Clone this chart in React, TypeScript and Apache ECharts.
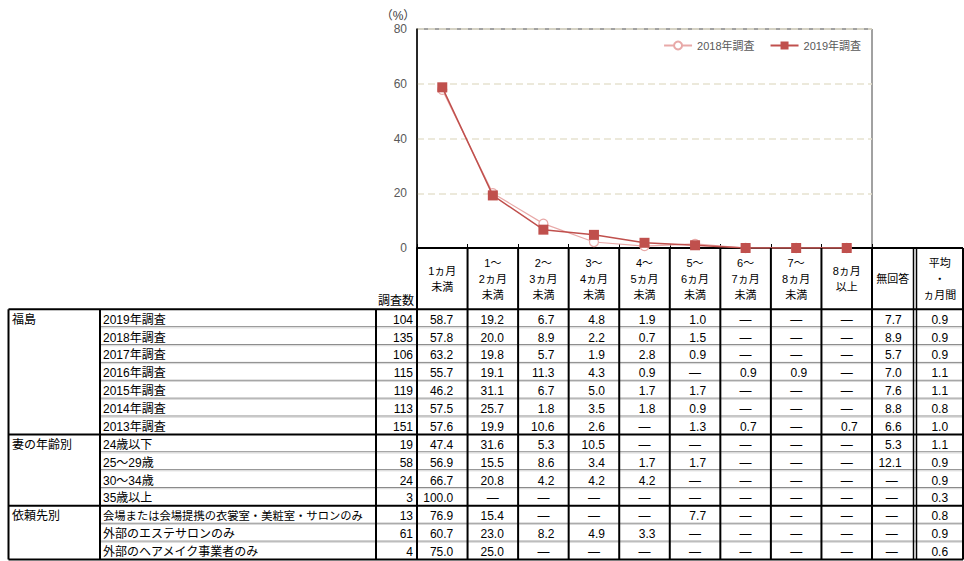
import React, { useEffect, useRef } from 'react';
import * as echarts from 'echarts';

// ---------- data ----------
const categories = [
  '1ヵ月\n未満', '1～\n2ヵ月\n未満', '2～\n3ヵ月\n未満', '3～\n4ヵ月\n未満', '4～\n5ヵ月\n未満',
  '5～\n6ヵ月\n未満', '6～\n7ヵ月\n未満', '7～\n8ヵ月\n未満', '8ヵ月\n以上',
];
const extraHeaders = ['無回答', '平均\n・\nヵ月間'];
const countHeader = '調査数';
const unitLabel = '（%）';
const yTicks = { min: 0, max: 80, interval: 20 };

const groupNames = ['福島', '妻の年齢別', '依頼先別'];
const groupSizes = [7, 4, 3];
const rowLabels = [
  '2019年調査', '2018年調査', '2017年調査', '2016年調査', '2015年調査', '2014年調査', '2013年調査',
  '24歳以下', '25～29歳', '30～34歳', '35歳以上',
  '会場または会場提携の衣裳室・美粧室・サロンのみ', '外部のエステサロンのみ', '外部のヘアメイク事業者のみ',
];
const sampleCounts = [104, 135, 106, 115, 119, 113, 151, 19, 58, 24, 3, 13, 61, 4];
const _ = null;
const rowValues: (number | null)[][] = [
  [58.7, 19.2, 6.7, 4.8, 1.9, 1.0, _, _, _],
  [57.8, 20.0, 8.9, 2.2, 0.7, 1.5, _, _, _],
  [63.2, 19.8, 5.7, 1.9, 2.8, 0.9, _, _, _],
  [55.7, 19.1, 11.3, 4.3, 0.9, _, 0.9, 0.9, _],
  [46.2, 31.1, 6.7, 5.0, 1.7, 1.7, _, _, _],
  [57.5, 25.7, 1.8, 3.5, 1.8, 0.9, _, _, _],
  [57.6, 19.9, 10.6, 2.6, _, 1.3, 0.7, _, 0.7],
  [47.4, 31.6, 5.3, 10.5, _, _, _, _, _],
  [56.9, 15.5, 8.6, 3.4, 1.7, 1.7, _, _, _],
  [66.7, 20.8, 4.2, 4.2, 4.2, _, _, _, _],
  [100.0, _, _, _, _, _, _, _, _],
  [76.9, 15.4, _, _, _, 7.7, _, _, _],
  [60.7, 23.0, 8.2, 4.9, 3.3, _, _, _, _],
  [75.0, 25.0, _, _, _, _, _, _, _],
];
const noAnswer: (number | null)[] = [7.7, 8.9, 5.7, 7.0, 7.6, 8.8, 6.6, 5.3, 12.1, _, _, _, _, _];
const avgMonths: number[] = [0.9, 0.9, 0.9, 1.1, 1.1, 0.8, 1.0, 1.1, 0.9, 0.9, 0.3, 0.8, 0.9, 0.6];

const seriesNames = ['2018年調査', '2019年調査'];
const series2018 = rowValues[1].map((v) => v ?? 0);
const series2019 = rowValues[0].map((v) => v ?? 0);

// ---------- layout ----------
const W = 964;
const H = 561;
const PL = 417, PR = 872, PT = 29, PB = 248;
const colW = (PR - PL) / categories.length;
const TT = 309.3;
const rowH = 17.87;
const X_LEFT = 8.5, X_GROUP = 100, X_LABEL = 376;
const X_NA_R = 913.5, X_AVG_L = 916.5, X_RIGHT = 963;
const FONT = "'Liberation Sans', 'Noto Sans CJK JP', sans-serif";

function buildGraphics() {
  const els: any[] = [];
  const line = (x1: number, y1: number, x2: number, y2: number, stroke = '#000', w = 2) =>
    els.push({ type: 'line', silent: true, z: 100, shape: { x1, y1, x2, y2 }, style: { stroke, lineWidth: w } });
  const text = (t: string, x: number, y: number, align = 'left', size = 12, fill = '#000', lh = 16) =>
    els.push({
      type: 'text', silent: true, z: 101, x, y,
      style: {
        text: t, font: `${size}px ${FONT}`, fill, lineHeight: lh,
        align, verticalAlign: 'middle', textAlign: align, textVerticalAlign: 'middle',
      },
    });
  const nRows = rowLabels.length;
  const yBottom = TT + nRows * rowH;

  // unit label
  text(unitLabel, 398, 16, 'center', 12, '#404040');
  // header texts
  text(countHeader, 396, 301, 'center', 12);
  text(extraHeaders[0], (PR + X_NA_R) / 2, 279, 'center', 11);
  text(extraHeaders[1], (X_AVG_L + X_RIGHT) / 2, 279, 'center', 11);

  // row separators (double grey)
  const groupEnds: number[] = [];
  let acc = 0;
  groupSizes.forEach((s) => { acc += s; groupEnds.push(acc); });
  for (let r = 1; r < nRows; r++) {
    if (groupEnds.includes(r)) continue;
    const y = TT + r * rowH;
    line(X_GROUP, y - 0.5, X_RIGHT, y - 0.5, '#8a8a8a', 1);
    line(X_GROUP, y + 0.7, X_RIGHT, y + 0.7, '#d6d6d6', 1);
  }
  // thick horizontals
  line(X_LEFT, TT, X_RIGHT, TT);
  groupEnds.forEach((r) => line(X_LEFT, TT + r * rowH, X_RIGHT, TT + r * rowH));
  line(PR, PB, X_RIGHT, PB);

  // verticals
  [X_LEFT, X_GROUP, X_LABEL].forEach((x) => line(x, TT, x, yBottom));
  for (let i = 0; i <= categories.length; i++) {
    const x = PL + i * colW;
    line(x, PB, x, yBottom);
  }
  line(X_NA_R, PB, X_NA_R, yBottom, '#000', 1.5);
  line(X_AVG_L, PB, X_AVG_L, yBottom, '#000', 1.5);
  line(X_RIGHT, PB, X_RIGHT, yBottom);

  // group labels
  let start = 0;
  groupNames.forEach((g, gi) => {
    text(g, 12, TT + (start + 0.5) * rowH + 1.5, 'left', 12);
    start += groupSizes[gi];
  });

  // rows
  rowLabels.forEach((lab, r) => {
    const y = TT + (r + 0.5) * rowH + 1.5;
    text(lab, 103, y, 'left', lab.length > 20 ? 11.3 : 12);
    text(String(sampleCounts[r]), 413, y, 'right', 12);
    rowValues[r].forEach((v, c) => {
      const cx = PL + (c + 0.5) * colW;
      if (v == null) text('—', cx, y, 'center', 12);
      else text(v.toFixed(1), cx + 11, y, 'right', 12);
    });
    const na = noAnswer[r];
    const naC = (PR + X_NA_R) / 2;
    if (na == null) text('—', naC - 1, y, 'center', 12);
    else text(na.toFixed(1), naC + 9, y, 'right', 12);
    text(avgMonths[r].toFixed(1), (X_AVG_L + X_RIGHT) / 2, y, 'center', 12);
  });
  return els;
}

export default function App() {
  const ref = useRef<HTMLDivElement>(null);
  useEffect(() => {
    if (!ref.current) return;
    const chart = echarts.init(ref.current, null, { renderer: 'svg' });
    chart.setOption({
      animation: false,
      textStyle: { fontFamily: FONT },
      grid: {
        left: PL, right: W - PR, top: PT, bottom: H - PB,
        show: true, borderColor: '#444', borderWidth: 1, backgroundColor: 'transparent',
      },
      legend: {
        data: seriesNames,
        right: 103, top: 40, padding: 0, itemGap: 15, itemWidth: 28, itemHeight: 10,
        textStyle: { fontSize: 11, color: '#595959', fontFamily: FONT },
      },
      xAxis: {
        type: 'category',
        data: categories,
        boundaryGap: true,
        axisLine: { lineStyle: { color: '#000', width: 2 } },
        axisTick: { show: true, inside: true, length: 4, lineStyle: { color: '#000', width: 1 } },
        axisLabel: {
          show: true, interval: 0, margin: 31, verticalAlign: 'middle',
          fontSize: 11, lineHeight: 16, color: '#000', fontFamily: FONT,
        },
        splitLine: { show: false },
      },
      yAxis: {
        type: 'value',
        min: yTicks.min, max: yTicks.max, interval: yTicks.interval,
        axisLine: { show: true, lineStyle: { color: '#000', width: 1.5 } },
        axisTick: { show: false },
        axisLabel: { color: '#595959', fontSize: 12, margin: 10, fontFamily: FONT },
        splitLine: { show: true, lineStyle: { color: '#e6e2d0', width: 1.5, type: [7, 4] } },
      },
      series: [
        {
          name: seriesNames[0], type: 'line', data: series2018,
          symbol: 'circle', symbolSize: 9,
          lineStyle: { color: '#e8a9a8', width: 1.2 },
          itemStyle: { color: '#fff', borderColor: '#e8a9a8', borderWidth: 1.2 },
          z: 2,
        },
        {
          name: seriesNames[1], type: 'line', data: series2019,
          symbol: 'rect', symbolSize: 10,
          lineStyle: { color: '#c0504d', width: 1.5 },
          itemStyle: { color: '#c0504d' },
          z: 3,
        },
      ],
      graphic: { elements: buildGraphics() },
    });
    return () => chart.dispose();
  }, []);
  return <div ref={ref} style={{ position: 'absolute', left: 0, top: 0, width: W, height: H, background: '#fff' }} />;
}
